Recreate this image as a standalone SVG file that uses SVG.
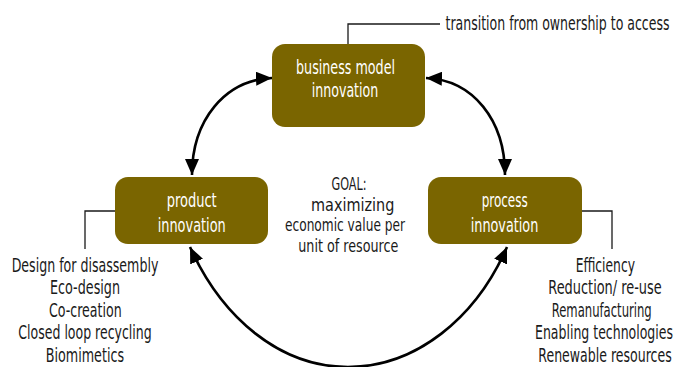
<svg xmlns="http://www.w3.org/2000/svg" width="675" height="367" viewBox="0 0 675 367">
  <style>
    .box { fill: #7a6500; }
    .lbl { font-family: "DejaVu Sans Condensed", "DejaVu Sans", "Liberation Sans", sans-serif; font-size: 20px; text-anchor: middle; }
    .goal { font-size: 17.5px; }
    .in { fill: #ffffff; }
    .out { fill: #1a1a1a; }
    .call { fill: none; stroke: #1a1a1a; stroke-width: 1.3; }
    .arc { fill: none; stroke: #000000; stroke-width: 2.6; marker-start: url(#head); marker-end: url(#head); }
  </style>
  <defs>
    <marker id="head" viewBox="0 0 16 14" refX="16" refY="7" markerWidth="16" markerHeight="14" markerUnits="userSpaceOnUse" orient="auto-start-reverse">
      <path d="M0,0 L16,7 L0,14 Z" fill="#000000"/>
    </marker>
  </defs>
  <rect width="675" height="367" fill="#ffffff"/>

  <!-- connectors: callout leaders and the three double-headed arcs -->
  <g id="connectors">
    <polyline class="call" points="348,44 348,24 440,24"/>
    <polyline class="call" points="115,211 85,211 85,249"/>
    <polyline class="call" points="582,211 612,211 612,249"/>
    <path class="arc" d="M192,175 C192,120 225,80 272,78"/>
    <path class="arc" d="M426,78 C473,80 505,120 505,175"/>
    <path class="arc" d="M190,247 C222,318 280,367 348,367 C416,367 476,318 507,247"/>
  </g>

  <!-- every label is set in a narrowed face: scaled horizontally about its anchor -->
  <g id="business-model">
    <rect class="box" x="272" y="44" width="153" height="83" rx="13"/>
    <text class="lbl in" transform="translate(345.5,74) scale(.64,1)" textLength="154.7" lengthAdjust="spacingAndGlyphs">business model</text>
    <text class="lbl in" transform="translate(345,96.5) scale(.64,1)" textLength="103.9" lengthAdjust="spacingAndGlyphs">innovation</text>
  </g>

  <g id="product">
    <rect class="box" x="115" y="177" width="153" height="67" rx="13"/>
    <text class="lbl in" transform="translate(191.7,206.7) scale(.64,1)" textLength="78.1" lengthAdjust="spacingAndGlyphs">product</text>
    <text class="lbl in" transform="translate(191.7,231.7) scale(.64,1)" textLength="106.3" lengthAdjust="spacingAndGlyphs">innovation</text>
  </g>

  <g id="process">
    <rect class="box" x="428" y="177" width="154" height="67" rx="13"/>
    <text class="lbl in" transform="translate(504.7,206.7) scale(.64,1)" textLength="71.9" lengthAdjust="spacingAndGlyphs">process</text>
    <text class="lbl in" transform="translate(504.5,231.7) scale(.64,1)" textLength="105.6" lengthAdjust="spacingAndGlyphs">innovation</text>
  </g>

  <g id="goal">
    <text class="lbl goal out" transform="translate(349,190) scale(.7,1)" textLength="50" lengthAdjust="spacingAndGlyphs">GOAL:</text>
    <text class="lbl goal out" transform="translate(352.7,210.7) scale(.7,1)" textLength="119" lengthAdjust="spacingAndGlyphs">maximizing</text>
    <text class="lbl goal out" transform="translate(345,231.3) scale(.7,1)" textLength="171.4" lengthAdjust="spacingAndGlyphs">economic value per</text>
    <text class="lbl goal out" transform="translate(348.3,252) scale(.7,1)" textLength="142.9" lengthAdjust="spacingAndGlyphs">unit of resource</text>
  </g>

  <g id="business-note">
    <text class="lbl out" transform="translate(557.5,30) scale(.64,1)" textLength="350" lengthAdjust="spacingAndGlyphs">transition from ownership to access</text>
  </g>

  <g id="product-list">
    <text class="lbl out" transform="translate(85,271.7) scale(.64,1)" textLength="229.2" lengthAdjust="spacingAndGlyphs">Design for disassembly</text>
    <text class="lbl out" transform="translate(85,294.2) scale(.64,1)" textLength="109.4" lengthAdjust="spacingAndGlyphs">Eco-design</text>
    <text class="lbl out" transform="translate(85.3,316.7) scale(.64,1)" textLength="113.6" lengthAdjust="spacingAndGlyphs">Co-creation</text>
    <text class="lbl out" transform="translate(85,339.2) scale(.64,1)" textLength="208.3" lengthAdjust="spacingAndGlyphs">Closed loop recycling</text>
    <text class="lbl out" transform="translate(84.9,361.7) scale(.64,1)" textLength="122.3" lengthAdjust="spacingAndGlyphs">Biomimetics</text>
  </g>

  <g id="process-list">
    <text class="lbl out" transform="translate(605.3,271.7) scale(.64,1)" textLength="92.7" lengthAdjust="spacingAndGlyphs">Efficiency</text>
    <text class="lbl out" transform="translate(605,294.2) scale(.64,1)" textLength="177" lengthAdjust="spacingAndGlyphs">Reduction/ re-use</text>
    <text class="lbl out" transform="translate(601.7,316.7) scale(.64,1)" textLength="156.3" lengthAdjust="spacingAndGlyphs">Remanufacturing</text>
    <text class="lbl out" transform="translate(604,339.2) scale(.64,1)" textLength="215.6" lengthAdjust="spacingAndGlyphs">Enabling technologies</text>
    <text class="lbl out" transform="translate(605,361.7) scale(.64,1)" textLength="208.3" lengthAdjust="spacingAndGlyphs">Renewable resources</text>
  </g>
</svg>
